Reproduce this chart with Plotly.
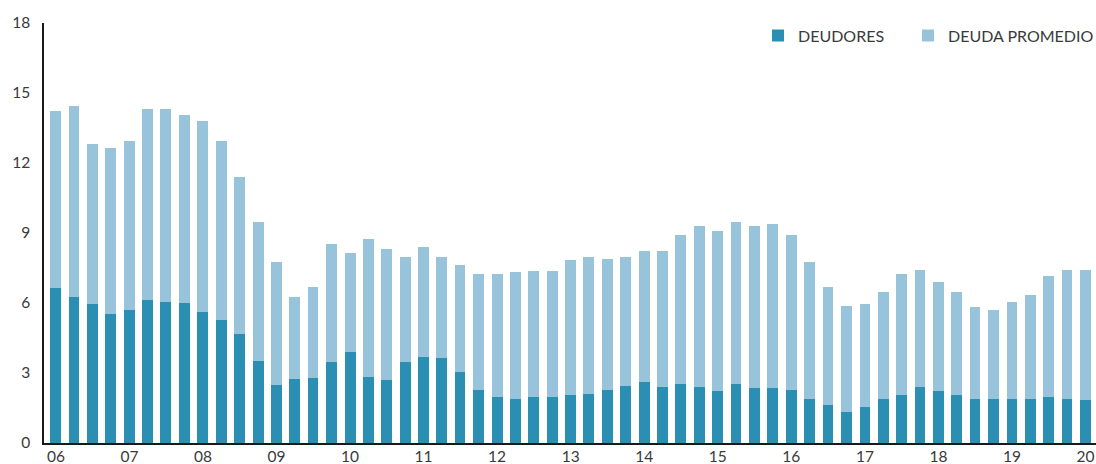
import pandas as pd
import plotly.graph_objects as go

# Quarterly observations, 2006Q1 .. 2020Q1
trimestres = pd.date_range("2006-01-01", "2020-01-01", freq="QS")

deudores = [6.64, 6.25, 5.95, 5.52, 5.69, 6.12, 6.04, 5.99, 5.61, 5.26,
            4.66, 3.51, 2.47, 2.73, 2.78, 3.46, 3.89, 2.82, 2.69, 3.46,
            3.68, 3.63, 3.03, 2.26, 1.96, 1.87, 1.96, 1.96, 2.05, 2.09,
            2.26, 2.43, 2.60, 2.39, 2.52, 2.39, 2.22, 2.52, 2.35, 2.35,
            2.26, 1.87, 1.62, 1.32, 1.53, 1.87, 2.05, 2.39, 2.22, 2.05,
            1.87, 1.87, 1.87, 1.87, 1.96, 1.87, 1.83]

deuda_promedio = [7.59, 8.20, 6.87, 7.13, 7.26, 8.20, 8.28, 8.07, 8.20, 7.69,
                  6.74, 5.96, 5.28, 3.52, 3.90, 5.07, 4.25, 5.92, 5.62, 4.51,
                  4.72, 4.34, 4.60, 4.98, 5.28, 5.45, 5.41, 5.41, 5.79, 5.88,
                  5.62, 5.54, 5.63, 5.84, 6.39, 6.91, 6.86, 6.95, 6.95, 7.03,
                  6.65, 5.88, 5.06, 4.55, 4.42, 4.60, 5.19, 5.02, 4.68, 4.42,
                  3.95, 3.82, 4.17, 4.47, 5.19, 5.54, 5.58]

anios = pd.date_range("2006-01-01", "2020-01-01", freq="YS")
etiquetas_x = [f"{d.year % 100:02d}" for d in anios]
ticks_y = [0, 3, 6, 9, 12, 15, 18]

OSCURO = "#2b8fb3"
CLARO = "#97c4da"
TEXTO = "#3a3a3a"
FONT = "Lato"

fig = go.Figure()
fig.add_trace(go.Bar(x=trimestres, y=deudores, name="DEUDORES",
                     marker=dict(color=OSCURO, line=dict(width=0)),
                     legend="legend"))
fig.add_trace(go.Bar(x=trimestres, y=deuda_promedio, name="DEUDA PROMEDIO",
                     marker=dict(color=CLARO, line=dict(width=0)),
                     legend="legend2"))

leyenda = dict(orientation="h", xanchor="left", y=0.97, yanchor="middle",
               bgcolor="rgba(0,0,0,0)", font=dict(size=16, color=TEXTO),
               itemwidth=30)

fig.update_layout(
    width=1096, height=464,
    margin=dict(l=44, r=0, t=23, b=21, autoexpand=False),
    barmode="stack", bargap=0.4,
    paper_bgcolor="white", plot_bgcolor="white",
    font=dict(family=FONT, size=15.5, color=TEXTO),
    showlegend=True,
    legend=dict(leyenda, x=0.6787),
    legend2=dict(leyenda, x=0.8213),
    xaxis=dict(type="date", range=["2005-11-03", "2020-02-22"],
               tickvals=list(anios), ticktext=etiquetas_x,
               showline=True, linecolor="#1a1a1a", linewidth=1.5,
               showgrid=False, ticks="", zeroline=False, automargin=False,
               ticklabelstandoff=-1,
               tickfont=dict(size=15.5, color=TEXTO)),
    yaxis=dict(range=[0, 18], tickvals=ticks_y,
               showline=True, linecolor="#1a1a1a", linewidth=1.5,
               showgrid=False, ticks="", zeroline=False, automargin=False,
               ticklabelstandoff=9,
               tickfont=dict(size=15.5, color=TEXTO)),
)

fig.write_html("out.html", config={"displayModeBar": False},
               post_script="document.body.style.margin='0';document.body.style.overflow='hidden';")
